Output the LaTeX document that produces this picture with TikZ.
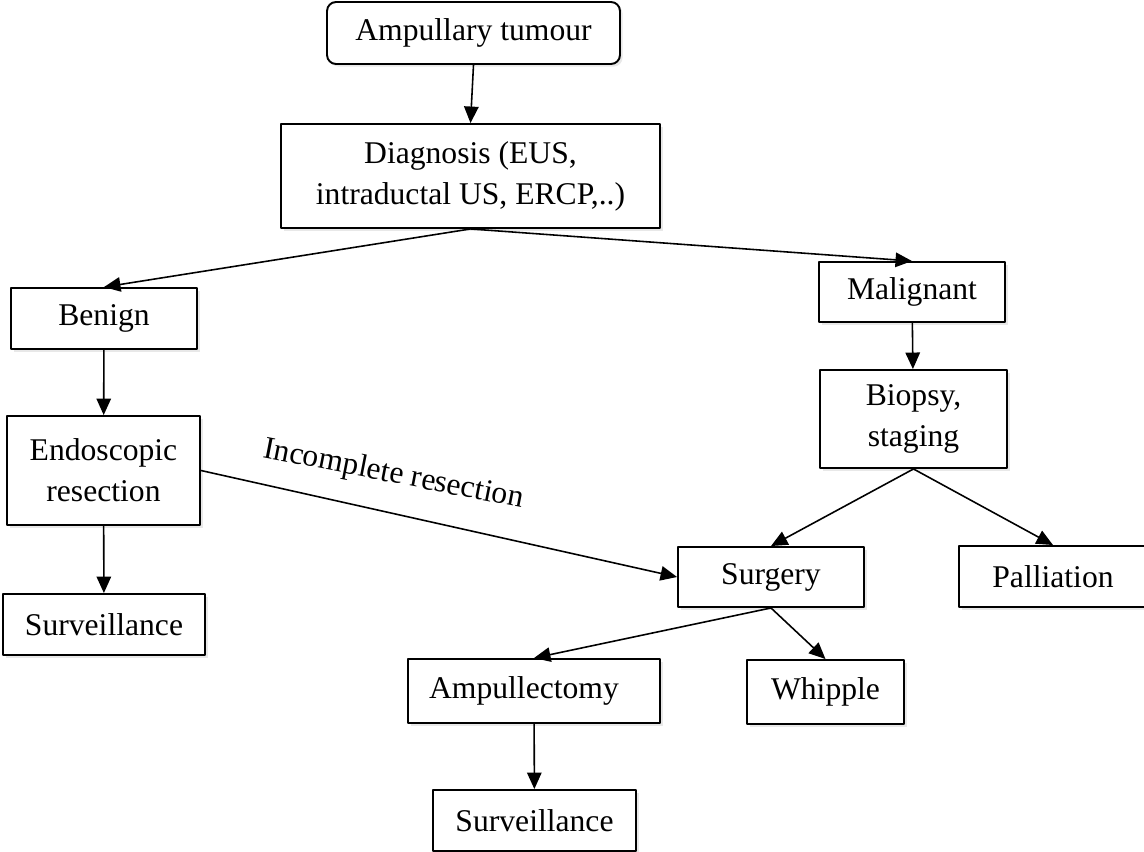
\documentclass[tikz,border=0pt]{standalone}
\usepackage{fontspec}
\setmainfont{Liberation Serif}
\usepackage{tikz}
\usetikzlibrary{arrows.meta,calc,shadows}
\tikzset{blk/.style={draw,line width=1.1pt,fill=white,inner sep=0pt,align=center,
    drop shadow={opacity=0.18,shadow xshift=1.5pt,shadow yshift=-1.5pt}},
  arr/.style={->,line width=0.9pt}}

\begin{document}
\begin{tikzpicture}[x=0.02cm,y=-0.02cm,>={Triangle[length=0.33cm,width=0.29cm]},line join=round,font=\fontsize{18}{23.3}\selectfont]
\useasboundingbox (0,0) rectangle (1144,852);
% --- top: tumour and diagnosis
\node[blk,rounded corners=0.18cm,minimum width=5.86cm,minimum height=1.24cm] (amp) at (473.5,33) {Ampullary tumour};
\node[blk,minimum width=7.58cm,minimum height=2.08cm] (diag) at (470.5,176) {Diagnosis (EUS,\\intraductal US, ERCP,..)};
% --- benign branch
\node[blk,minimum width=3.72cm,minimum height=1.22cm] (ben) at (104,318.5) {Benign};
\node[blk,minimum width=3.86cm,minimum height=2.18cm] (endo) at (103.5,470.5) {Endoscopic\\resection};
\node[blk,minimum width=4.04cm,minimum height=1.22cm] (survl) at (104,624.5) {Surveillance};
% --- malignant branch
\node[blk,minimum width=3.72cm,minimum height=1.20cm] (mal) at (912,292) {Malignant};
\node[blk,minimum width=3.74cm,minimum height=1.96cm] (biop) at (913.5,419) {Biopsy,\\staging};
\node[blk,minimum width=3.72cm,minimum height=1.20cm] (surg) at (771,577) {Surgery};
\node[blk,minimum width=3.76cm,minimum height=1.22cm] (pal) at (1053,576.5) {Palliation};
\node[blk,minimum width=5.04cm,minimum height=1.28cm] (ampu) at (534,691) {Ampullectomy\hspace{0.4cm}};
\node[blk,minimum width=3.14cm,minimum height=1.28cm] (whip) at (825.5,692) {Whipple};
\node[blk,minimum width=4.06cm,minimum height=1.22cm] (survb) at (534.5,820.5) {Surveillance};
% --- connectors
\draw[arr] (amp.south) -- (diag.north);
\draw[arr] (diag.south) -- (ben.north);
\draw[arr] (diag.south) -- (mal.north);
\draw[arr] (ben) -- (endo);
\draw[arr] (endo) -- (survl);
\draw[arr] (endo.east) -- (surg.west);
\node[rotate=-11.1,anchor=base] (lbl) at (392,482.5) {Incomplete resection};
\draw[arr] (mal) -- (biop);
\draw[arr] (biop.south) -- (surg.north);
\draw[arr] (biop.south) -- (pal.north);
\draw[arr] (surg.south) -- (ampu.north);
\draw[arr] (surg.south) -- (whip.north);
\draw[arr] (ampu) -- (survb);
\end{tikzpicture}
\end{document}
